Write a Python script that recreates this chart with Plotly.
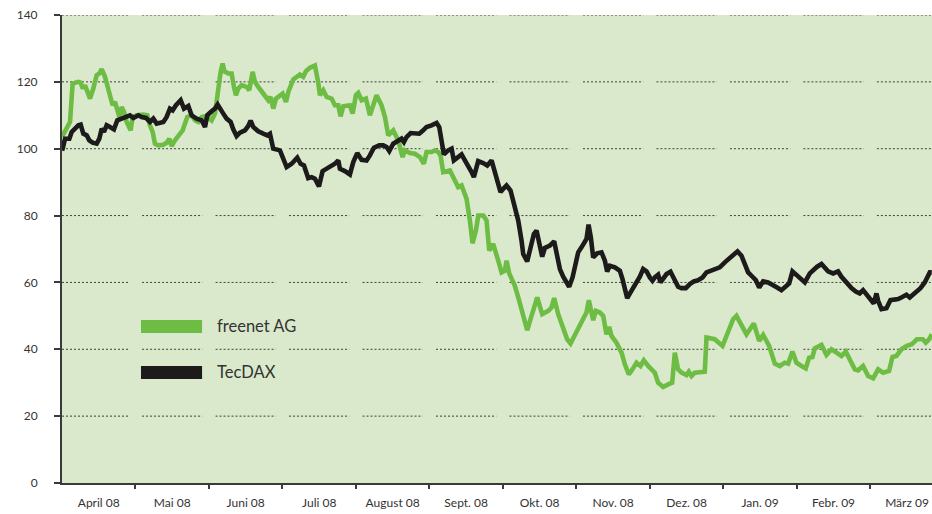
import plotly.graph_objects as go

# x positions in months since start of April 2008 (0 = 1 April 08)
freenet_t = [0.00,0.063,0.109,0.145,0.222,0.254,0.281,0.313,0.381,0.426,0.472,0.508,0.540,0.585,0.630,0.689,0.721,0.753,0.780,0.812,0.844,0.880,0.934,0.961,1.016,1.107,1.161,1.197,1.234,1.265,1.311,1.379,1.424,1.460,1.492,1.537,1.583,1.642,1.673,1.705,1.764,1.810,1.855,1.900,1.968,2.036,2.082,2.127,2.159,2.186,2.209,2.263,2.308,2.340,2.367,2.399,2.444,2.512,2.549,2.594,2.626,2.671,2.717,2.762,2.807,2.839,2.875,2.912,2.966,3.002,3.048,3.080,3.147,3.238,3.283,3.320,3.374,3.442,3.488,3.510,3.556,3.601,3.669,3.714,3.760,3.791,3.828,3.918,3.955,4.000,4.032,4.077,4.136,4.190,4.281,4.349,4.395,4.440,4.508,4.576,4.635,4.667,4.735,4.803,4.871,4.925,4.961,5.029,5.075,5.120,5.152,5.188,5.279,5.347,5.392,5.438,5.506,5.551,5.587,5.633,5.665,5.733,5.778,5.814,5.868,5.937,5.982,6.027,6.050,6.086,6.141,6.163,6.209,6.254,6.286,6.331,6.390,6.467,6.535,6.617,6.662,6.698,6.753,6.821,6.875,6.921,6.980,7.048,7.102,7.138,7.170,7.206,7.229,7.265,7.320,7.365,7.410,7.447,7.478,7.546,7.615,7.660,7.714,7.764,7.819,7.873,7.918,7.977,8.068,8.113,8.181,8.249,8.304,8.340,8.385,8.431,8.499,8.531,8.567,8.612,8.748,8.771,8.884,8.989,9.066,9.134,9.179,9.247,9.315,9.415,9.488,9.542,9.624,9.701,9.769,9.837,9.882,9.941,9.995,10.063,10.122,10.168,10.213,10.245,10.336,10.404,10.472,10.540,10.608,10.667,10.721,10.789,10.834,10.902,10.971,11.039,11.107,11.175,11.256,11.302,11.356,11.424,11.497,11.565,11.633,11.714,11.755,11.800,11.837]
freenet_v = [103.5,106,108,119.5,120,119.8,118,119,115,118,122,122.5,123.8,121.5,118,113,114,112,109.5,112.5,111,108,105.5,109.5,110,110.2,110,107,105,101.5,101,101.2,101.8,103,100.8,102.5,104,105.5,107.5,109.5,110,108.5,108,109.5,109.8,108.5,110.5,119,123,125.5,123.2,122.5,122.5,118.5,116,118,119,118.5,117.5,123,120,118.5,117,116,114.5,115.5,112,115,116,116.5,114,117,120.7,122.2,121.5,123.2,124.2,124.9,119.7,116,117.5,115.5,115,113,113,109.7,112.7,113,110.5,116,116.7,114.5,115,110,116,113,109.5,104,105.5,102.5,97.5,99.5,98.7,98.5,97.5,95.5,99,99,99.5,99,98,93,93.5,90,88.5,89,85,78.5,71.7,75.5,80,80,78.5,69.5,71.5,66.5,63,63.5,66.5,62.7,60.5,59,55.5,51.5,49.5,45.7,50,55.5,50.5,51.5,52.5,55.3,50.5,46,43,41.7,44.5,47,49.5,51,54.7,51,48.7,51.5,51,50,44.5,46.7,44,42,39,35.5,32.5,34,36,35,36.7,35,33,30,28.7,29.5,30,39,34,33,32.3,33.3,32,33,33.3,43.5,43,41,45.5,49,50,47.5,44.5,47.7,42.5,44.3,41,35.7,35,36,35.7,39.3,36,35,34.3,37.5,37.7,40.3,41.3,38.3,40,39,38,39.3,37,34,33.7,35,32,31.3,34,33,33.5,37.7,38,40,41,41.5,43,43,42,43,44.5]

tecdax_t = [0.000,0.009,0.041,0.100,0.132,0.177,0.222,0.254,0.290,0.336,0.372,0.417,0.472,0.508,0.540,0.571,0.608,0.653,0.707,0.753,0.812,0.871,0.925,0.971,1.039,1.084,1.143,1.197,1.243,1.288,1.379,1.424,1.469,1.506,1.551,1.615,1.660,1.719,1.764,1.832,1.900,1.946,1.977,2.036,2.082,2.118,2.159,2.195,2.240,2.295,2.331,2.376,2.422,2.490,2.535,2.567,2.603,2.671,2.739,2.794,2.830,2.875,2.966,3.057,3.125,3.202,3.247,3.293,3.351,3.397,3.442,3.497,3.546,3.601,3.669,3.714,3.760,3.782,3.850,3.918,3.964,4.018,4.077,4.145,4.190,4.245,4.317,4.372,4.417,4.454,4.508,4.562,4.621,4.653,4.689,4.744,4.803,4.862,4.916,4.961,5.029,5.098,5.134,5.166,5.197,5.256,5.302,5.333,5.379,5.438,5.483,5.528,5.574,5.605,5.664,5.732,5.787,5.846,5.891,5.937,5.968,6.005,6.050,6.104,6.141,6.209,6.254,6.277,6.331,6.376,6.422,6.458,6.494,6.535,6.571,6.639,6.698,6.739,6.776,6.821,6.866,6.902,6.948,6.993,7.025,7.070,7.102,7.138,7.166,7.197,7.229,7.283,7.342,7.388,7.419,7.456,7.524,7.592,7.628,7.660,7.692,7.737,7.796,7.864,7.909,7.955,8.000,8.036,8.068,8.113,8.145,8.181,8.227,8.281,8.340,8.385,8.431,8.490,8.544,8.599,8.658,8.717,8.771,8.839,8.907,8.952,9.020,9.088,9.143,9.193,9.247,9.293,9.338,9.397,9.442,9.488,9.542,9.610,9.678,9.732,9.791,9.837,9.896,9.941,9.995,10.050,10.109,10.177,10.231,10.277,10.336,10.381,10.426,10.494,10.562,10.608,10.653,10.698,10.744,10.803,10.857,10.902,10.957,11.016,11.048,11.084,11.107,11.152,11.220,11.274,11.333,11.379,11.424,11.492,11.537,11.583,11.628,11.683,11.741,11.778,11.810,11.837]
tecdax_v = [99.5,100,103,103,105,106,107,107.2,104.5,104,102.5,101.8,101.5,103,106,105,107,106.5,105.8,108.5,109,109.5,110,109.2,110,109.5,109.2,108,109,107.5,108,109.5,112,111.5,113,114.5,112,112.8,110,109,108.5,106.5,110,111.2,112,113.2,112,110.5,109,108,105.8,103.8,104.8,105.5,106.8,108.4,106.5,105.2,104.5,104,104.5,100,99.5,94.5,95.5,97.3,95.5,95,91.2,91.5,91,88.7,93.3,94,95,95.5,96.5,94,93.3,92.3,96,98.7,96.7,96.5,98,100.3,101,101,100.5,99.3,101.5,102.3,103,102,103.5,104.7,104.5,104.5,105.5,106.5,107,107.7,106.5,102.5,98.3,99.5,100,96.5,97.2,98.3,96.5,95,93,91.5,96.3,95.7,95,96.5,92.5,89.5,87,88,89,87.5,84.5,78.5,72.5,68.5,66.3,70.5,74.5,75.5,71.5,67.7,70.3,71,72.3,67.5,64,61.7,60,58.7,61.5,65.3,69,70.5,71.5,73,77.3,73.5,67.5,68.7,69,66.5,63.3,65,64.5,63.5,61,57.5,55.3,57,59,61.7,64,63.3,61.5,60.5,61.5,62.3,60,61,62.5,63.2,61,58.7,58.3,58.3,59.5,60.3,60.7,61.5,63,63.5,64,64.5,66,67.3,68.5,69.3,68,65.5,63,61.7,60.7,58.5,60.3,60,59.3,58.5,57.7,58.5,59.7,63.3,62.3,61.5,60,62.7,64,64.7,65.5,64.3,63.3,62.7,63.3,61.7,60.5,59.3,58.3,57.3,56.7,57.7,56.3,55,53.7,56.7,54.5,52,52.3,54.7,54.8,55,55.5,56.3,55.5,56.3,57.3,58.3,60,61.5,63,63]

month_labels = ["April 08", "Mai 08", "Juni 08", "Juli 08", "August 08", "Sept. 08",
                "Okt. 08", "Nov. 08", "Dez. 08", "Jan. 09", "Febr. 09", "März 09"]
y_ticks = [0, 20, 40, 60, 80, 100, 120, 140]
series_names = ["freenet AG", "TecDAX"]

GREEN = "#6dbd45"
BLACK = "#1c1a1a"
AXIS = "#3a3a3a"
X_END = 11.84

fig = go.Figure()
fig.add_trace(go.Scatter(x=freenet_t, y=freenet_v, mode="lines", name=series_names[0],
                         line=dict(color=GREEN, width=4.6), showlegend=False))
fig.add_trace(go.Scatter(x=tecdax_t, y=tecdax_v, mode="lines", name=series_names[1],
                         line=dict(color=BLACK, width=4.6), showlegend=False))

# dotted grid segments, interrupted at month boundaries
shapes = []
for yv in y_ticks[1:]:
    for i in range(len(month_labels)):
        x0 = i + 0.09 if i > 0 else 0.0
        x1 = min(i + 0.91, X_END)
        if x0 >= X_END:
            continue
        shapes.append(dict(type="line", xref="x", yref="y", x0=x0, x1=x1, y0=yv, y1=yv,
                           line=dict(color="#3f3f3f", width=1, dash="2px,2px"), layer="below"))

# legend swatches
shapes.append(dict(type="rect", xref="paper", yref="paper", x0=0.0908, x1=0.161,
                   y0=0.3205, y1=0.3483, fillcolor=GREEN, line=dict(width=0)))
shapes.append(dict(type="rect", xref="paper", yref="paper", x0=0.0908, x1=0.161,
                   y0=0.2222, y1=0.25, fillcolor=BLACK, line=dict(width=0)))

annotations = [
    dict(xref="paper", yref="paper", x=0.1759, y=0.3355, text=series_names[0], showarrow=False,
         xanchor="left", yanchor="middle", font=dict(size=16.5, color="#333333", family="Lato")),
    dict(xref="paper", yref="paper", x=0.1759, y=0.2372, text=series_names[1], showarrow=False,
         xanchor="left", yanchor="middle", font=dict(size=16.5, color="#333333", family="Lato")),
]

fig.update_layout(
    width=932, height=514,
    margin=dict(l=62, r=0, t=15, b=31),
    paper_bgcolor="white",
    plot_bgcolor="#dae9cb",
    shapes=shapes,
    annotations=annotations,
    font=dict(family="Lato", size=12, color="#333333"),
    xaxis=dict(
        range=[0, X_END], showgrid=False, zeroline=False,
        tickmode="array", tickvals=[i + 0.5 for i in range(len(month_labels))],
        ticktext=month_labels, ticks="", ticklabelstandoff=8,
        showline=True, linecolor=AXIS, linewidth=2,
        minor=dict(tickmode="array", tickvals=list(range(1, 12)), ticks="outside",
                   ticklen=4, tickwidth=2, tickcolor=AXIS, showgrid=False),
        tickfont=dict(size=12, color="#333333"),
    ),
    yaxis=dict(
        range=[0, 140], showgrid=False, zeroline=False,
        tickmode="array", tickvals=y_ticks,
        ticks="outside", ticklen=6, tickwidth=2, tickcolor=AXIS, ticklabelstandoff=14,
        showline=True, linecolor=AXIS, linewidth=2,
        tickfont=dict(size=12, color="#333333"),
    ),
)

fig.write_html("out.html", config={"displayModeBar": False},
               post_script="document.body.style.margin='0';document.body.style.overflow='hidden';")
